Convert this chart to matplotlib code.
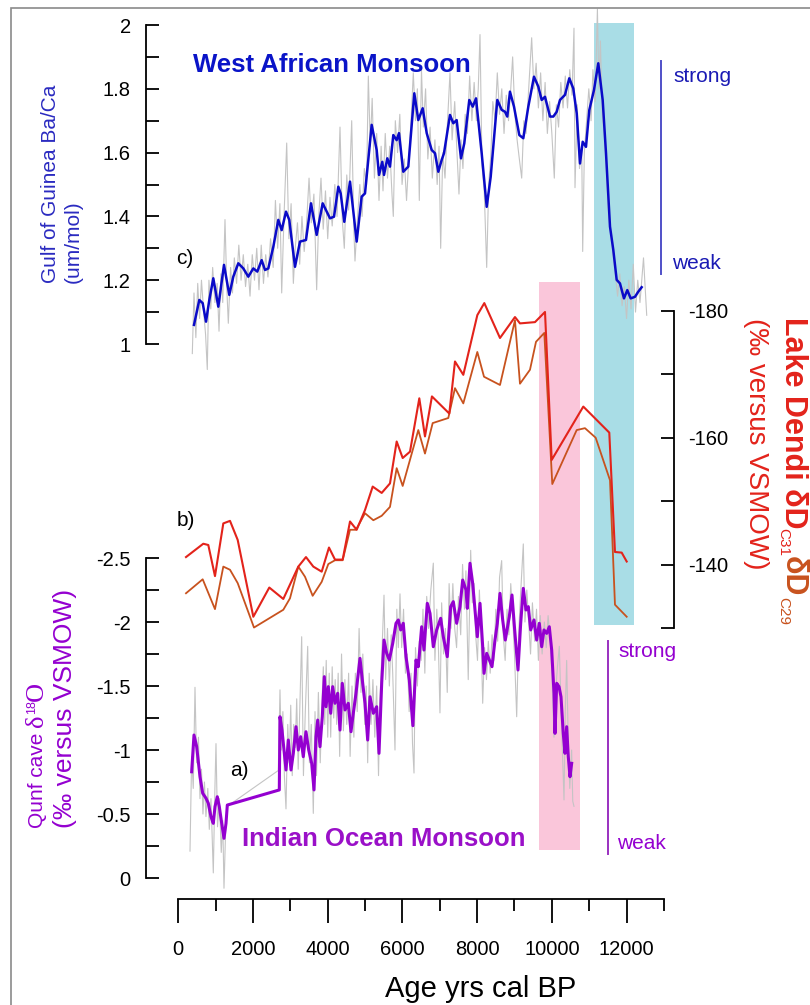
import matplotlib
matplotlib.use("Agg")
import matplotlib.pyplot as plt
from matplotlib.ticker import FixedLocator, FuncFormatter
from matplotlib.patches import Rectangle
from matplotlib.lines import Line2D

plt.rcParams['font.family'] = ['Liberation Sans', 'DejaVu Sans']
plt.rcParams['axes.unicode_minus'] = False

# ---------------- data ----------------
# (c) Gulf of Guinea Ba/Ca, smoothed record
wam_age = [420, 562, 653, 742, 830, 937, 1071, 1223, 1365, 1472, 1606, 1740, 1874, 2008, 2115,
           2232, 2321, 2410, 2544, 2677, 2768, 2883, 2971, 3124, 3258, 3418, 3552, 3704, 3865,
           4061, 4168, 4284, 4347, 4444, 4597, 4775, 4909, 4998, 5177, 5311, 5373, 5461, 5507,
           5595, 5667, 5756, 5846, 5908, 6023, 6157, 6318, 6425, 6542, 6650, 6784, 6872, 6961,
           7051, 7113, 7273, 7362, 7452, 7568, 7656, 7790, 7882, 7970, 8122, 8256, 8363, 8540,
           8657, 8746, 8807, 8879, 8987, 9129, 9236, 9370, 9522, 9637, 9728, 9817, 9951, 10040,
           10130, 10218, 10352, 10467, 10574, 10666, 10754, 10826, 10914, 11002, 11128, 11243,
           11361, 11450, 11557, 11645, 11736, 11824, 11931, 12020, 12111, 12226, 12314, 12405]
wam_baca = [1.06, 1.138, 1.128, 1.07, 1.138, 1.206, 1.117, 1.248, 1.154, 1.211, 1.253, 1.237,
            1.211, 1.237, 1.227, 1.263, 1.232, 1.237, 1.305, 1.389, 1.357, 1.415, 1.389, 1.242,
            1.321, 1.326, 1.441, 1.342, 1.441, 1.394, 1.399, 1.493, 1.472, 1.383, 1.509, 1.321,
            1.462, 1.472, 1.687, 1.608, 1.530, 1.571, 1.530, 1.582, 1.556, 1.655, 1.639, 1.661,
            1.540, 1.556, 1.786, 1.702, 1.739, 1.661, 1.608, 1.598, 1.540, 1.577, 1.598, 1.718,
            1.692, 1.702, 1.582, 1.629, 1.765, 1.744, 1.770, 1.598, 1.430, 1.524, 1.765, 1.734,
            1.728, 1.713, 1.791, 1.744, 1.655, 1.645, 1.744, 1.838, 1.807, 1.765, 1.775, 1.713,
            1.713, 1.728, 1.765, 1.781, 1.833, 1.801, 1.723, 1.566, 1.634, 1.618, 1.733, 1.796,
            1.880, 1.765, 1.598, 1.368, 1.295, 1.201, 1.190, 1.143, 1.169, 1.143, 1.148, 1.164,
            1.178]

# (c) Gulf of Guinea Ba/Ca, raw measurements
wam_raw_age = [375, 420, 470, 520, 570, 620, 680, 730, 776, 820, 870, 920, 980, 1040, 1090, 1140,
               1190, 1250, 1300, 1339, 1400, 1450, 1500, 1560, 1620, 1680, 1740, 1800, 1860, 1920,
               1980, 2040, 2100, 2160, 2220, 2280, 2340, 2400, 2470, 2540, 2600, 2660, 2720, 2768,
               2830, 2902, 2960, 3020, 3080, 3130, 3190, 3250, 3310, 3370, 3430, 3500, 3560, 3630,
               3704, 3760, 3820, 3880, 3940, 4000, 4060, 4120, 4190, 4250, 4329, 4390, 4444, 4510,
               4560, 4642, 4700, 4730, 4800, 4860, 4920, 4980, 5040, 5087, 5140, 5190, 5250, 5311,
               5373, 5430, 5480, 5540, 5600, 5660, 5720, 5756, 5810, 5870, 5930, 5990, 6050, 6110,
               6180, 6240, 6291, 6350, 6400, 6452, 6510, 6560, 6620, 6680, 6740, 6800, 6870, 6930,
               6980, 7024, 7080, 7140, 7200, 7273, 7330, 7400, 7460, 7514, 7570, 7620, 7680, 7740,
               7800, 7860, 7920, 7980, 8030, 8077, 8130, 8190, 8256, 8310, 8370, 8420, 8480, 8540,
               8600, 8660, 8720, 8780, 8840, 8900, 8951, 9010, 9070, 9130, 9193, 9250, 9310, 9380,
               9460, 9520, 9580, 9640, 9700, 9760, 9820, 9880, 9940, 10000, 10066, 10120, 10180,
               10240, 10300, 10360, 10420, 10480, 10540, 10593, 10620, 10680, 10740, 10800, 10826,
               10870, 10930, 10990, 11050, 11100, 11160, 11220, 11260, 11300, 11350, 11400, 11460,
               11520, 11580, 11640, 11700, 11760, 11820, 11880, 11940, 12000, 12060, 12120, 12180,
               12240, 12300, 12360, 12454, 12540]
wam_raw_baca = [0.97, 1.16, 1.02, 1.19, 1.08, 1.20, 1.10, 1.03, 0.92, 1.20, 1.11, 1.24, 1.13, 1.19,
                1.04, 1.22, 1.13, 1.39, 1.17, 1.065, 1.24, 1.16, 1.27, 1.19, 1.31, 1.20, 1.28, 1.18,
                1.25, 1.15, 1.28, 1.20, 1.30, 1.17, 1.31, 1.19, 1.28, 1.21, 1.33, 1.24, 1.45, 1.30,
                1.44, 1.16, 1.40, 1.63, 1.33, 1.44, 1.19, 1.30, 1.38, 1.25, 1.40, 1.29, 1.37, 1.52,
                1.38, 1.47, 1.17, 1.40, 1.52, 1.36, 1.48, 1.33, 1.46, 1.37, 1.50, 1.40, 1.68, 1.39,
                1.30, 1.53, 1.42, 1.70, 1.36, 1.26, 1.40, 1.50, 1.40, 1.55, 1.50, 1.84, 1.62, 1.77,
                1.52, 1.66, 1.45, 1.62, 1.48, 1.66, 1.52, 1.62, 1.47, 1.40, 1.70, 1.60, 1.72, 1.50,
                1.58, 1.45, 1.60, 1.72, 1.85, 1.70, 1.80, 1.45, 1.86, 1.68, 1.80, 1.58, 1.68, 1.52,
                1.64, 1.50, 1.62, 1.30, 1.60, 1.52, 1.68, 1.85, 1.64, 1.76, 1.60, 1.47, 1.64, 1.55,
                1.72, 1.66, 1.84, 1.70, 1.82, 1.70, 1.80, 1.97, 1.56, 1.48, 1.24, 1.50, 1.60, 1.76,
                1.70, 1.85, 1.72, 1.80, 1.66, 1.78, 1.70, 1.80, 1.90, 1.72, 1.64, 1.58, 1.52, 1.70,
                1.66, 1.80, 1.96, 1.80, 1.88, 1.74, 1.85, 1.70, 1.82, 1.66, 1.76, 1.66, 1.52, 1.75,
                1.68, 1.82, 1.74, 1.84, 1.74, 1.86, 1.78, 1.99, 1.49, 1.75, 1.55, 1.62, 1.29, 1.60,
                1.70, 1.80, 1.70, 1.86, 1.76, 2.05, 1.80, 1.95, 1.72, 1.66, 1.55, 1.40, 1.35, 1.28,
                1.22, 1.15, 1.22, 1.12, 1.18, 1.08, 1.20, 1.11, 1.25, 1.10, 1.20, 1.13, 1.27, 1.09]

# (b) Lake Dendi leaf-wax dD (C31 and C29)
dendi_age_c31 = [206, 669, 803, 982, 1205, 1384, 1590, 2008, 2436, 2811, 3213, 3418, 3614, 3839,
                 4034, 4195, 4400, 4597, 4775, 4998, 5204, 5445, 5667, 5846, 6007, 6203, 6452,
                 6604, 6790, 7255, 7407, 7630, 8005, 8192, 8612, 9013, 9147, 9549, 9817, 9996,
                 10842, 11538, 11690, 11870, 12004]
dendi_dD_c31 = [-141.2, -143.3, -143.1, -138.2, -146.5, -146.9, -143.9, -131.8, -136.4, -134.6,
                -139.7, -141.2, -139.7, -138.9, -142.7, -140.8, -140.8, -146.8, -145.5, -148.6,
                -152.3, -151.3, -152.8, -159.4, -156.8, -157.8, -166.2, -160.2, -166.5, -163.8,
                -172.0, -169.9, -179.3, -181.2, -175.7, -179.0, -178.0, -178.2, -179.8, -156.5,
                -164.9, -160.8, -142.0, -141.9, -140.5]
dendi_age_c29 = [206, 653, 982, 1205, 1384, 1590, 2026, 2811, 2990, 3213, 3392, 3597, 3839, 4016,
                 4195, 4400, 4597, 4757, 4998, 5221, 5445, 5667, 5846, 6007, 6425, 6604, 6810,
                 7228, 7407, 7630, 8005, 8184, 8612, 9013, 9147, 9415, 9576, 9798, 10012, 10665,
                 10887, 11173, 11557, 11690, 12004]
dendi_dD_c29 = [-135.5, -137.7, -133.0, -139.7, -139.2, -137.1, -130.1, -132.9, -134.7, -139.7,
                -138.1, -135.1, -137.3, -140.1, -140.7, -140.7, -145.5, -145.5, -148.1, -147.0,
                -147.7, -149.1, -155.2, -152.4, -161.2, -157.5, -162.3, -163.1, -167.8, -165.4,
                -173.5, -169.6, -168.3, -178.5, -168.5, -170.7, -175.1, -176.5, -152.7, -161.2,
                -161.5, -160.0, -153.3, -133.7, -131.8]

# (a) Qunf cave d18O, smoothed record
qunf_age = [358, 420, 492, 581, 653, 742, 803, 875, 937, 982, 1044, 1098, 1162, 1223, 1277, 1312,
            2704, 2722, 2776, 2830, 2883, 2945, 3017, 3079, 3151, 3213, 3277, 3346, 3418, 3491,
            3571, 3633, 3686, 3732, 3793, 3855, 3909, 3954, 4016, 4080, 4133, 4195, 4267, 4329,
            4390, 4463, 4551, 4623, 4685, 4757, 4864, 4936, 4998, 5070, 5132, 5221, 5311, 5373,
            5445, 5507, 5579, 5649, 5740, 5828, 5890, 5954, 6023, 6096, 6184, 6280, 6363, 6425,
            6515, 6577, 6666, 6738, 6827, 6917, 7024, 7094, 7201, 7292, 7362, 7452, 7541, 7613,
            7702, 7737, 7809, 7881, 7943, 8005, 8077, 8149, 8184, 8256, 8326, 8398, 8478, 8540,
            8612, 8684, 8754, 8861, 8933, 9005, 9094, 9166, 9236, 9308, 9370, 9434, 9522, 9594,
            9664, 9728, 9790, 9862, 9932, 9996, 10058, 10085, 10130, 10192, 10245, 10306, 10352,
            10397, 10440, 10486, 10531]
qunf_d18o = [-0.83, -1.117, -1.026, -0.791, -0.662, -0.623, -0.584, -0.479, -0.427, -0.557,
             -0.635, -0.557, -0.427, -0.310, -0.427, -0.570, -0.688, -1.26, -1.156, -1.0, -0.844,
             -1.078, -0.844, -0.974, -1.182, -1.0, -1.104, -0.948, -1.143, -1.0, -0.896, -0.688,
             -1.104, -1.234, -1.026, -1.26, -1.573, -1.338, -1.495, -1.287, -1.495, -1.365, -1.443,
             -1.156, -1.521, -1.313, -1.365, -1.143, -1.287, -1.443, -1.716, -1.521, -1.365,
             -1.078, -1.416, -1.287, -1.338, -0.974, -1.521, -1.859, -1.755, -1.703, -1.833,
             -1.99, -2.016, -1.938, -1.99, -1.729, -1.547, -1.19, -1.703, -1.651, -1.963, -1.781,
             -2.146, -2.068, -1.807, -1.938, -2.029, -1.885, -1.729, -2.12, -2.159, -1.99, -2.12,
             -2.328, -2.25, -2.107, -2.459, -2.302, -2.094, -1.885, -2.146, -1.807, -1.599,
             -1.755, -1.703, -1.651, -1.859, -1.99, -2.224, -2.016, -1.859, -2.041, -2.211,
             -1.938, -1.625, -1.99, -2.263, -2.094, -2.12, -1.938, -2.016, -1.859, -1.99, -1.807,
             -1.938, -1.911, -1.963, -1.781, -1.443, -1.130, -1.521, -1.495, -1.416, -1.130,
             -0.974, -1.182, -0.948, -0.791, -0.896]

# (a) Qunf cave d18O, raw measurements
qunf_raw_age = [313, 358, 400, 447, 490, 540, 580, 620, 660, 700, 740, 790, 830, 875, 937, 980,
                1009, 1050, 1100, 1150, 1190, 1223, 1270, 1312, 2677, 2722, 2760, 2800, 2840,
                2883, 2930, 2970, 3010, 3050, 3090, 3130, 3170, 3210, 3250, 3303, 3350, 3400,
                3464, 3510, 3560, 3614, 3660, 3700, 3750, 3800, 3850, 3882, 3920, 3960, 4000,
                4040, 4080, 4120, 4160, 4200, 4240, 4280, 4320, 4370, 4420, 4460, 4510, 4560,
                4600, 4650, 4700, 4740, 4790, 4840, 4890, 4940, 4990, 5030, 5070, 5110, 5160,
                5210, 5260, 5310, 5360, 5400, 5450, 5507, 5550, 5600, 5650, 5700, 5740, 5801,
                5850, 5890, 5935, 5980, 6030, 6080, 6130, 6180, 6230, 6270, 6310, 6350, 6400,
                6450, 6500, 6550, 6600, 6650, 6700, 6760, 6827, 6870, 6920, 6960, 7005, 7050,
                7100, 7150, 7200, 7250, 7300, 7350, 7400, 7450, 7500, 7560, 7610, 7660, 7700,
                7762, 7827, 7870, 7920, 7960, 8010, 8060, 8100, 8149, 8200, 8250, 8300, 8350,
                8400, 8450, 8500, 8550, 8600, 8657, 8700, 8750, 8800, 8850, 8900, 8950, 9000,
                9059, 9110, 9160, 9236, 9280, 9330, 9380, 9430, 9480, 9540, 9590, 9640, 9690,
                9740, 9800, 9850, 9900, 9960, 10000, 10058, 10100, 10150, 10200, 10260, 10326,
                10360, 10397, 10440, 10480, 10530, 10560, 10593]
qunf_raw_d18o = [-0.21, -0.95, -0.70, -1.49, -0.90, -1.10, -0.62, -0.85, -0.50, -0.75, -0.48,
                 -0.70, -0.38, -0.62, -0.04, -0.70, -1.05, -0.40, -0.62, -0.20, -0.45, 0.08,
                 -0.40, -0.56, -0.84, -1.47, -1.00, -1.30, -0.80, -0.54, -1.20, -0.90, -1.35,
                 -0.80, -1.20, -1.02, -1.40, -0.85, -1.30, -1.885, -0.80, -1.30, -1.81, -0.90,
                 -1.20, -0.505, -1.30, -0.80, -1.45, -0.90, -1.40, -1.65, -1.20, -1.70, -1.10,
                 -1.60, -1.10, -1.65, -1.25, -1.55, -1.20, -1.60, -0.95, -1.75, -1.15, -1.55,
                 -1.20, -1.60, -0.95, -1.50, -1.10, -1.60, -1.30, -1.95, -1.45, -1.75, -1.20,
                 -1.50, -0.90, -1.60, -1.20, -1.55, -1.10, -1.50, -0.80, -1.40, -1.75, -2.21,
                 -1.55, -1.95, -1.50, -1.90, -1.60, -1.00, -2.10, -1.80, -2.22, -1.80, -2.10,
                 -1.60, -1.75, -1.30, -1.60, -1.05, -0.82, -1.80, -1.50, -1.85, -1.70, -2.10,
                 -1.60, -2.20, -1.95, -2.25, -2.46, -1.70, -2.10, -1.85, -1.29, -2.15, -1.75,
                 -1.95, -1.45, -2.30, -1.95, -2.30, -1.95, -1.80, -2.20, -1.90, -2.45, -2.10,
                 -2.40, -1.55, -2.56, -2.15, -2.30, -1.90, -1.70, -2.25, -1.95, -1.365, -1.80,
                 -1.55, -1.85, -1.60, -1.90, -1.70, -2.10, -1.85, -2.35, -2.48, -1.90, -1.70,
                 -2.10, -1.90, -2.30, -2.05, -1.75, -1.26, -1.90, -2.20, -2.61, -2.00, -2.25,
                 -2.00, -1.75, -2.15, -1.85, -2.10, -1.70, -2.05, -1.75, -2.00, -1.80, -2.05,
                 -1.85, -1.60, -1.10, -1.45, -1.65, -1.81, -1.20, -0.61, -1.30, -1.70, -1.05,
                 -0.70, -1.00, -0.60, -0.56]

# shaded intervals (yrs cal BP)
pink_span = (9657, 10755)
blue_span = (11122, 12209)

x_major = [0, 2000, 4000, 6000, 8000, 10000, 12000]
x_minor = [1000, 3000, 5000, 7000, 9000, 11000, 13000]
baca_major = [1.0, 1.2, 1.4, 1.6, 1.8, 2.0]
baca_minor = [1.1, 1.3, 1.5, 1.7, 1.9]
dd_major = [-180, -160, -140]
dd_minor = [-170, -150, -130]
o18_major = [-2.5, -2.0, -1.5, -1.0, -0.5, 0.0]
o18_minor = [-2.25, -1.75, -1.25, -0.75, -0.25]

# ---------------- colours ----------------
C_BLUE = '#0a0ac8'
C_BLUE_LBL = '#2a2ac0'
C_PURPLE = '#9400d0'
C_RED = '#e3231b'
C_ORANGE = '#c8521e'
C_GREY = '#c4c4c4'
C_PINK = '#fac6da'
C_CYAN = '#a9dde6'

W, H, DPI = 810, 1005, 100
fig = plt.figure(figsize=(W / DPI, H / DPI), dpi=DPI)
fig.patch.set_facecolor('white')


def fx(px):
    return px / W


def fy(py):
    return 1 - py / H


# common plotting frame (x: 0..13000 yrs)
L, R, T, B = 178.3, 663.9, 8.0, 899.0
rect = [fx(L), fy(B), (R - L) / W, (B - T) / H]
XSPINE_LEFT = -865
XSPINE_RIGHT = 13280

fmt_g = FuncFormatter(lambda v, p: '%g' % v)
TICK_FS = 14.5

ax_a = fig.add_axes(rect, label='qunf')
ax_b = fig.add_axes(rect, label='dendi')
ax_c = fig.add_axes(rect, label='guinea')
for ax in (ax_a, ax_b, ax_c):
    ax.set_facecolor('none')
    ax.set_xlim(0, 13000)
    for s in ax.spines.values():
        s.set_visible(False)
    ax.tick_params(which='both', bottom=False, top=False, left=False, right=False,
                   labelbottom=False, labeltop=False, labelleft=False, labelright=False)

ax_c.set_ylim(-0.7398, 2.0533)
ax_b.set_ylim(-87.35, -227.67)
ax_a.set_ylim(0.164, -6.797)

# shaded intervals, behind everything
ax_a.axvspan(*pink_span, ymin=(B - 850) / (B - T), ymax=(B - 282) / (B - T),
             color=C_PINK, lw=0, zorder=0)
ax_a.axvspan(*blue_span, ymin=(B - 625) / (B - T), ymax=(B - 23) / (B - T),
             color=C_CYAN, lw=0, zorder=0)

# ---- (a) Qunf cave
ax_a.plot(qunf_raw_age, qunf_raw_d18o, color=C_GREY, lw=0.8, zorder=2)
ax_a.plot(qunf_age, qunf_d18o, color=C_PURPLE, lw=2.2, zorder=3)
sp = ax_a.spines['left']
sp.set_visible(True)
sp.set_position(('data', XSPINE_LEFT))
sp.set_bounds(-2.5, 0)
sp.set_linewidth(1.3)
ax_a.yaxis.set_major_locator(FixedLocator(o18_major))
ax_a.yaxis.set_minor_locator(FixedLocator(o18_minor))
ax_a.yaxis.set_major_formatter(fmt_g)
ax_a.tick_params(axis='y', which='both', left=True, labelleft=True, direction='in',
                 length=9.5, width=1.3, pad=11, labelsize=TICK_FS)

sp = ax_a.spines['bottom']
sp.set_visible(True)
sp.set_bounds(0, 13000)
sp.set_linewidth(1.3)
ax_a.xaxis.set_major_locator(FixedLocator(x_major))
ax_a.xaxis.set_minor_locator(FixedLocator(x_minor))
ax_a.xaxis.set_major_formatter(fmt_g)
ax_a.tick_params(axis='x', which='major', bottom=True, labelbottom=True, direction='out',
                 length=17.5, width=1.3, pad=12, labelsize=TICK_FS)
ax_a.tick_params(axis='x', which='minor', bottom=True, direction='out', length=8.5, width=1.3)

# ---- (b) Lake Dendi
ax_b.plot(dendi_age_c29, dendi_dD_c29, color=C_ORANGE, lw=1.3, zorder=3)
ax_b.plot(dendi_age_c31, dendi_dD_c31, color=C_RED, lw=1.5, zorder=4)
sp = ax_b.spines['right']
sp.set_visible(True)
sp.set_position(('data', XSPINE_RIGHT))
sp.set_bounds(-180, -130)
sp.set_linewidth(1.3)
ax_b.yaxis.set_major_locator(FixedLocator(dd_major))
ax_b.yaxis.set_minor_locator(FixedLocator(dd_minor))
ax_b.yaxis.set_major_formatter(fmt_g)
ax_b.tick_params(axis='y', which='both', right=True, labelright=True, direction='in',
                 length=9.5, width=1.3, pad=10, labelsize=TICK_FS)

# ---- (c) Gulf of Guinea
ax_c.plot(wam_raw_age, wam_raw_baca, color=C_GREY, lw=0.8, zorder=2, clip_on=False)
ax_c.plot(wam_age, wam_baca, color=C_BLUE, lw=1.8, zorder=3)
sp = ax_c.spines['left']
sp.set_visible(True)
sp.set_position(('data', XSPINE_LEFT))
sp.set_bounds(1, 2)
sp.set_linewidth(1.3)
ax_c.yaxis.set_major_locator(FixedLocator(baca_major))
ax_c.yaxis.set_minor_locator(FixedLocator(baca_minor))
ax_c.yaxis.set_major_formatter(fmt_g)
ax_c.tick_params(axis='y', which='both', left=True, labelleft=True, direction='in',
                 length=9.5, width=1.3, pad=11, labelsize=TICK_FS)

# ---------------- annotations ----------------
def ftext(px, py, s, **kw):
    return fig.text(fx(px), fy(py), s, **kw)


ftext(193, 71.5, 'West African Monsoon', fontsize=18.5, fontweight='bold', color='#0a14c8',
      va='baseline', ha='left')
ftext(242, 846, 'Indian Ocean Monsoon', fontsize=18.5, fontweight='bold', color='#9a10c8',
      va='baseline', ha='left')
ftext(176, 264, 'c)', fontsize=15, va='baseline', ha='left')
ftext(177, 526, 'b)', fontsize=15, va='baseline', ha='left')
ftext(230, 776, 'a)', fontsize=15, va='baseline', ha='left')
ftext(385, 997, 'Age yrs cal BP', fontsize=21, va='baseline', ha='left')

# monsoon strength bars
fig.add_artist(Line2D([fx(661), fx(661)], [fy(61), fy(274)], color='#5050c8', lw=1.4))
ftext(673, 82, 'strong', fontsize=15, color='#1a1ab4', va='baseline', ha='left')
ftext(672, 269, 'weak', fontsize=15, color='#1a1ab4', va='baseline', ha='left')
fig.add_artist(Line2D([fx(607.7), fx(607.7)], [fy(641), fy(854)], color='#9a30c0', lw=1.4))
ftext(618, 657, 'strong', fontsize=15, color=C_PURPLE, va='baseline', ha='left')
ftext(617, 849, 'weak', fontsize=15, color=C_PURPLE, va='baseline', ha='left')

renderer = fig.canvas.get_renderer()


def chain(x0, y0, pieces, rotation):
    """Draw rotated text pieces one after another along the reading direction."""
    pos = 0.0
    for s, props, shift in pieces:
        xp = x0 - shift
        yp = y0 - pos if rotation == 90 else y0 + pos
        t = fig.text(fx(xp), fy(yp), s, rotation=rotation, rotation_mode='anchor',
                     ha='left', va='baseline', **props)
        pos += t.get_window_extent(renderer).height


# left axis titles
ftext(56, 283, 'Gulf of Guinea Ba/Ca', fontsize=15, color=C_BLUE_LBL, rotation=90,
      rotation_mode='anchor', ha='left', va='baseline')
ftext(78.5, 283, '(um/mol)', fontsize=15, color=C_BLUE_LBL, rotation=90,
      rotation_mode='anchor', ha='left', va='baseline')

chain(43, 828, [
    ('Qunf cave ', dict(fontsize=15, color=C_PURPLE), 0),
    ('δ', dict(fontsize=19, color=C_PURPLE, family='Liberation Serif'), 0),
    ('18', dict(fontsize=9, color=C_PURPLE), 8),
    ('O', dict(fontsize=19, color=C_PURPLE, family='Liberation Serif'), 0),
], 90)
ftext(72, 828, '(‰ versus VSMOW)', fontsize=19, color=C_PURPLE, rotation=90,
      rotation_mode='anchor', ha='left', va='baseline')

# right axis title
chain(785, 317, [
    ('Lake Dendi δD', dict(fontsize=22, fontweight='bold', color=C_RED), 0),
    ('C31', dict(fontsize=11, color=C_RED), 6),
    ('δD', dict(fontsize=22, fontweight='bold', color=C_ORANGE), 0),
    ('C29', dict(fontsize=11, color=C_ORANGE), 6),
], 270)
ftext(749, 318, '(‰ versus VSMOW)', fontsize=20, color=C_RED, rotation=270,
      rotation_mode='anchor', ha='left', va='baseline')

# outer frame
fig.add_artist(Rectangle((fx(11), fy(1012)), (830 - 11) / W, (1012 - 8) / H,
                         transform=fig.transFigure, fill=False, edgecolor='#8a8a8a', lw=1.2))

fig.savefig('out.png', dpi=DPI, facecolor='white')
